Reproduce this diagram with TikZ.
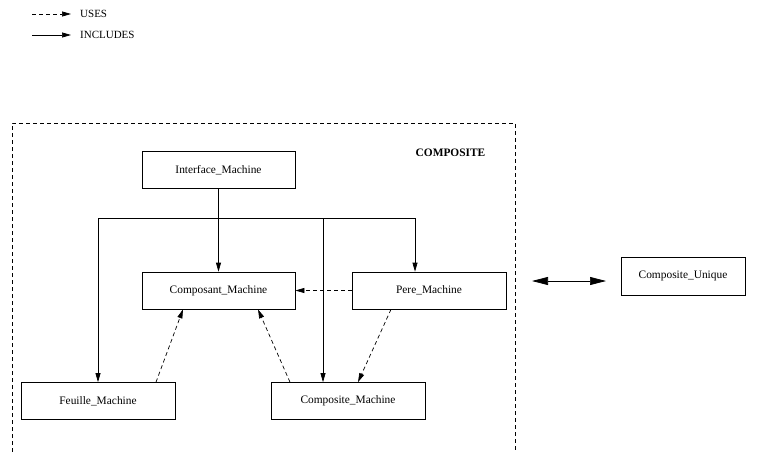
\documentclass[tikz,border=0pt]{standalone}
\usepackage{fontspec}
\setmainfont{Liberation Serif}
\usetikzlibrary{arrows.meta}
\tikzset{
  box/.style={draw, line width=0.7pt, inner sep=0pt, minimum height=37pt, font=\fontsize{11.4}{13}\selectfont},
  inc/.style={line width=0.7pt, -{Triangle[length=9pt,width=5pt]}},
  uses/.style={line width=0.7pt, dash pattern=on 4pt off 3pt, -{Triangle[length=9pt,width=5pt]}},
  frame/.style={line width=0.7pt, dash pattern=on 4pt off 3pt},
  lbl/.style={anchor=west, inner sep=0pt, font=\fontsize{11}{13}\selectfont}
}
\begin{document}
\begin{tikzpicture}[x=1pt, y=-1pt]
\useasboundingbox (0,0) rectangle (765,452);

% legend
\coordinate (uA) at (32,14);
\coordinate (uB) at (71,14);
\coordinate (iA) at (32,35);
\coordinate (iB) at (71,35);
\draw[uses] (uA) -- (uB);
\draw[inc] (iA) -- (iB);
\node[lbl] (usesT) at (80,14) {USES};
\node[lbl] (incT) at (80,35) {INCLUDES};

% package frame, open at the bottom
\draw[frame] (12,452) -- (12,123) -- (515,123) -- (515,452);
\node[font=\bfseries\fontsize{11.4}{13}\selectfont, inner sep=0pt] (pkg) at (450.5,153) {COMPOSITE};

% classes
\node[box, minimum width=153pt] (im)  at (218.5,170) {Interface\_Machine};
\node[box, minimum width=153pt] (cm)  at (218.5,290.5) {Composant\_Machine};
\node[box, minimum width=154pt] (pm)  at (429,290.5) {Pere\_Machine};
\node[box, minimum width=154pt] (fm)  at (98,401) {Feuille\_Machine};
\node[box, minimum width=154pt] (csm) at (348,401) {Composite\_Machine};
\node[box, minimum width=124pt, minimum height=38pt] (cu) at (683,276) {Composite\_Unique};

% inclusion tree
\coordinate (jL) at (98,218);
\coordinate (jM) at (323,218);
\coordinate (jR) at (415,218);
\draw[inc] (im.south) -- (cm.north);
\draw[line width=0.7pt] (jL) -- (jR);
\draw[inc] (jL) -- (jL |- fm.north);
\draw[inc] (jM) -- (jM |- csm.north);
\draw[inc] (jR) -- (jR |- pm.north);

% usage relations
\draw[uses] (pm.west) -- (cm.east);
\draw[uses] ([xshift=58pt]fm.north) -- ([xshift=-35.5pt]cm.south);
\draw[uses] ([xshift=-58pt]csm.north) -- ([xshift=39.5pt]cm.south);
\draw[uses] ([xshift=-38pt]pm.south) -- ([xshift=10pt]csm.north);

% link to the unique composite
\coordinate (dA) at (532,281);
\coordinate (dB) at (606,281);
\draw[line width=0.7pt, {Triangle[length=16pt,width=8pt]}-{Triangle[length=16pt,width=8pt]}] (dA) -- (dB);
\end{tikzpicture}
\end{document}
